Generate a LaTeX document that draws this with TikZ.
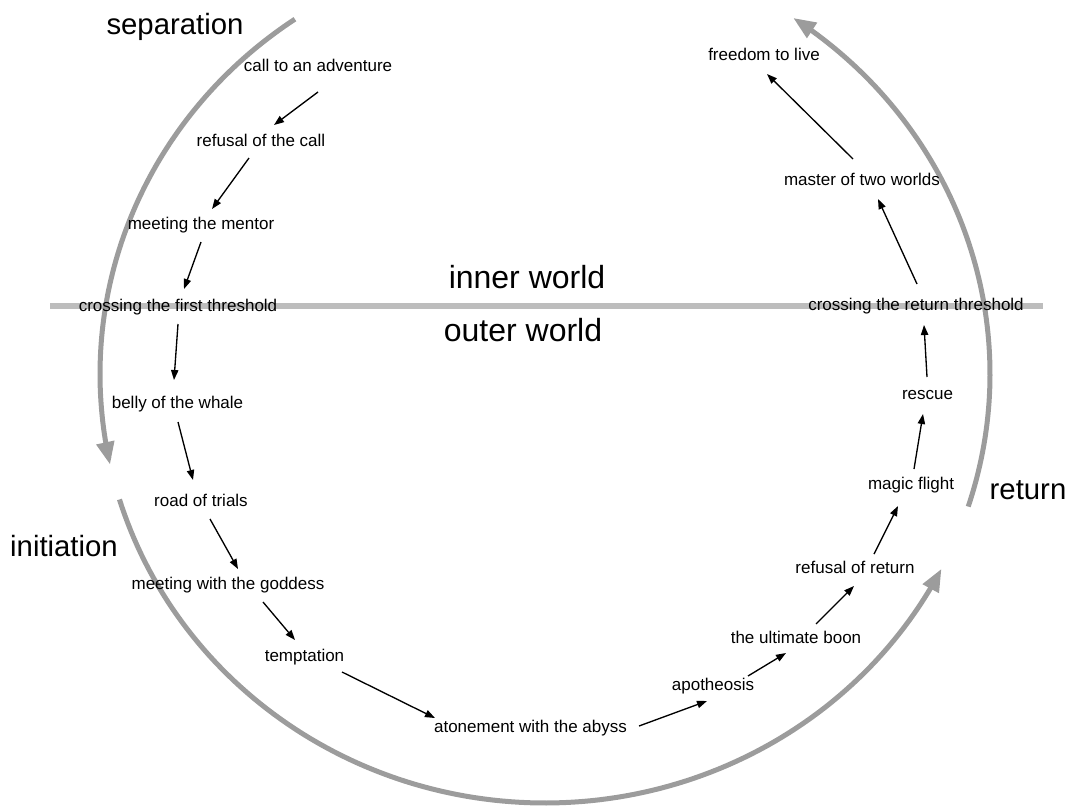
\documentclass[tikz,border=0pt]{standalone}
\usepackage{fontspec}
\setmainfont{Liberation Sans}
\usetikzlibrary{arrows.meta}
\definecolor{arcgray}{HTML}{9C9C9C}
\definecolor{linegray}{HTML}{BDBDBD}
\begin{document}
\begin{tikzpicture}[x=0.75pt,y=-0.75pt,
  stage/.style={inner sep=0pt,yshift=-1.2pt,font=\fontsize{12.75}{15}\selectfont},
  phase/.style={inner sep=0pt,yshift=-2pt,font=\fontsize{22}{26}\selectfont},
  world/.style={inner sep=0pt,yshift=-1pt,font=\fontsize{24}{28}\selectfont},
  flow/.style={draw=black,line width=1pt,-{Triangle[length=7.5pt,width=5.5pt]}},
  cycle/.style={draw=arcgray,line width=3.75pt,-{Triangle[length=17pt,width=13pt]}},
  divider/.style={draw=linegray,line width=4.5pt}]
\useasboundingbox (0,0) rectangle (1073,807);

% boundary between the inner and the outer world
\coordinate (dl) at (50,306);
\coordinate (dr) at (1043,306);
\draw[divider] (dl) -- (dr);

% the three phases of the cycle
\draw[cycle] plot[domain=124.2:192.2,samples=80] ({545+445*cos(\x)},{374-429*sin(\x)});
\draw[cycle] plot[domain=197:333,samples=120] ({545+445*cos(\x)},{374-429*sin(\x)});
\draw[cycle] plot[domain=-18:56.1,samples=80] ({545+445*cos(\x)},{374-429*sin(\x)});

% phase and world labels
\node[phase] (sep) at (175,24) {separation};
\node[phase] (ini) at (64,543) {initiation};
\node[phase] (ret) at (1028,487) {return};
\node[world] (inner) at (527,276) {inner world};
\node[world] (outer) at (523,329) {outer world};

% stages
\node[stage] (call) at (318,64) {call to an adventure};
\node[stage] (refusal) at (261,139) {refusal of the call};
\node[stage] (mentor) at (201,223) {meeting the mentor};
\node[stage] (cross) at (178,305) {crossing the first threshold};
\node[stage] (belly) at (177.5,402) {belly of the whale};
\node[stage] (road) at (201,499) {road of trials};
\node[stage] (goddess) at (228,583) {meeting with the goddess};
\node[stage] (tempt) at (304.5,655) {temptation};
\node[stage] (atone) at (530.5,726) {atonement with the abyss};
\node[stage] (apo) at (713,684) {apotheosis};
\node[stage] (boon) at (796,636) {the ultimate boon};
\node[stage] (refret) at (855,566) {refusal of return};
\node[stage] (magic) at (911,483) {magic flight};
\node[stage] (rescue) at (927.5,393) {rescue};
\node[stage] (crossret) at (916,304) {crossing the return threshold};
\node[stage] (master) at (862,178) {master of two worlds};
\node[stage] (free) at (764,53) {freedom to live};

% the journey from stage to stage (anchors offset from the text centres)
\draw[flow] ([shift={(0,26.4)}]call.center) -- ([shift={(13,-15.6)}]refusal.center);
\draw[flow] ([shift={(-12,17.4)}]refusal.center) -- ([shift={(11,-15.6)}]mentor.center);
\draw[flow] ([shift={(0,17.4)}]mentor.center) -- ([shift={(6,-17.6)}]cross.center);
\draw[flow] ([shift={(0,17.4)}]cross.center) -- ([shift={(-3.5,-23.6)}]belly.center);
\draw[flow] ([shift={(0.5,18.4)}]belly.center) -- ([shift={(-8,-20.6)}]road.center);
\draw[flow] ([shift={(9,18.4)}]road.center) -- ([shift={(10,-15.6)}]goddess.center);
\draw[flow] ([shift={(35,17.4)}]goddess.center) -- ([shift={(-9.5,-16.6)}]tempt.center);
\draw[flow] ([shift={(37.5,15.4)}]tempt.center) -- ([shift={(-95.5,-9.6)}]atone.center);
\draw[flow] ([shift={(108.5,-1.6)}]atone.center) -- ([shift={(-6,15.4)}]apo.center);
\draw[flow] ([shift={(35,-9.6)}]apo.center) -- ([shift={(-10,15.4)}]boon.center);
\draw[flow] ([shift={(20,-13.6)}]boon.center) -- ([shift={(-1,18.4)}]refret.center);
\draw[flow] ([shift={(19,-13.6)}]refret.center) -- ([shift={(-13,21.4)}]magic.center);
\draw[flow] ([shift={(3,-15.6)}]magic.center) -- ([shift={(-4.5,19.4)}]rescue.center);
\draw[flow] ([shift={(-0.5,-17.6)}]rescue.center) -- ([shift={(8,19.4)}]crossret.center);
\draw[flow] ([shift={(1,-21.6)}]crossret.center) -- ([shift={(16,19.4)}]master.center);
\draw[flow] ([shift={(-9,-20.6)}]master.center) -- ([shift={(3,19.4)}]free.center);
\end{tikzpicture}
\end{document}
